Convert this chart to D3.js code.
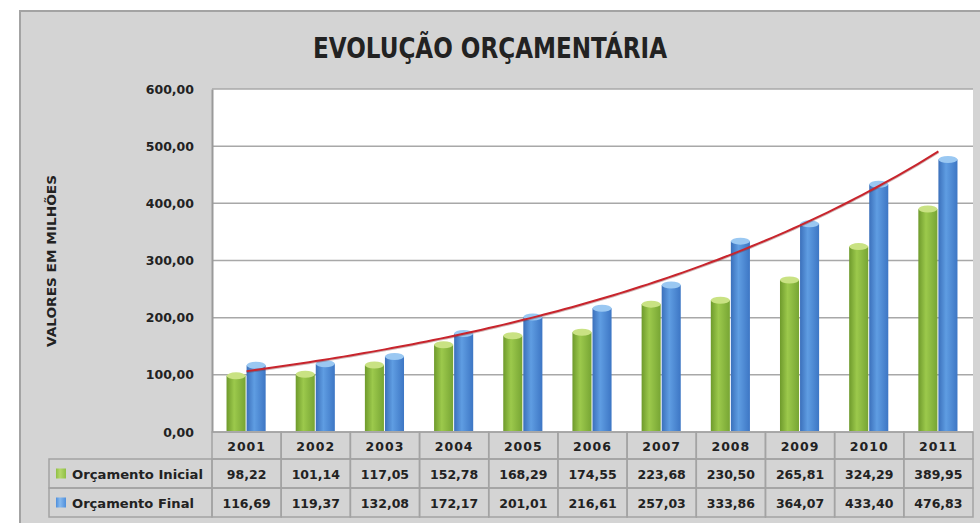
<!DOCTYPE html>
<html>
<head>
<meta charset="utf-8">
<script src="https://cdn.jsdelivr.net/npm/d3@7"></script>
<style>
  body { margin: 0; background: #fff; }
  svg { display: block; }
  text { font-family: "DejaVu Sans", sans-serif; fill: #222; }
</style>
</head>
<body>
<div id="chart"></div>
<script>
// chart data

var years = ["2001", "2002", "2003", "2004", "2005", "2006", "2007", "2008", "2009", "2010", "2011"];
var seriesNames = ["Orçamento Inicial", "Orçamento Final"];
var inicial = [98.22, 101.14, 117.05, 152.78, 168.29, 174.55, 223.68, 230.50, 265.81, 324.29, 389.95];
var final = [116.69, 119.37, 132.08, 172.17, 201.01, 216.61, 257.03, 333.86, 364.07, 433.40, 476.83];
var yTicks = [0, 100, 200, 300, 400, 500, 600];

// svg size and plot area

var svgWidth = 980;
var svgHeight = 523;

var plot = { left: 212, right: 973, top: 89, bottom: 432 };

var svg = d3.select("#chart")
  .append("svg")
  .attr("width", svgWidth)
  .attr("height", svgHeight);

var br = d3.formatLocale({ decimal: ",", thousands: ".", grouping: [3], currency: ["R$", ""] });
var fmt = br.format(".2f");

// gradients for the cylinder bars
var defs = svg.append("defs");
function cylGrad(id, edge, mid, edge2) {
  var g = defs.append("linearGradient").attr("id", id)
    .attr("x1", "0%").attr("x2", "100%").attr("y1", "0%").attr("y2", "0%");
  g.append("stop").attr("offset", "0%").attr("stop-color", edge);
  g.append("stop").attr("offset", "40%").attr("stop-color", mid);
  g.append("stop").attr("offset", "100%").attr("stop-color", edge2);
}
cylGrad("gGreen", "#6e9a2c", "#9cc94c", "#77a534");
cylGrad("gBlue", "#3b70bb", "#5f9de2", "#3d76c4");
cylGrad("kGreen", "#8fbf45", "#b5d86a", "#8fbf45");
cylGrad("kBlue", "#4f8fdc", "#86b9ee", "#4f8fdc");

var colors = [
  { fill: "url(#gGreen)", top: "#c9e283", key: "url(#kGreen)" },
  { fill: "url(#gBlue)", top: "#9ac8f2", key: "url(#kBlue)" }
];

// chart background
svg.append("rect")
  .attr("x", 20).attr("y", 11)
  .attr("width", 970).attr("height", 520)
  .attr("fill", "#d4d4d4")
  .attr("stroke", "#a3a3a3")
  .attr("stroke-width", 2);

// title
svg.append("text")
  .attr("x", 490).attr("y", 58)
  .attr("text-anchor", "middle")
  .attr("font-family", "'Open Sans', sans-serif")
  .attr("font-size", 28)
  .attr("font-weight", "bold")
  .attr("textLength", 354)
  .attr("lengthAdjust", "spacingAndGlyphs")
  .text("EVOLUÇÃO ORÇAMENTÁRIA");

// scales
var x0 = d3.scaleBand()
  .domain(years)
  .range([plot.left, plot.right])
  .paddingInner(0.42)
  .paddingOuter(0.21);

var x1 = d3.scaleBand()
  .domain([0, 1])
  .range([0, x0.bandwidth()]);

var yScale = d3.scaleLinear()
  .domain([0, 600])
  .range([plot.bottom, plot.top]);

// plot area
svg.append("rect")
  .attr("x", plot.left).attr("y", plot.top)
  .attr("width", plot.right - plot.left)
  .attr("height", plot.bottom - plot.top)
  .attr("fill", "#fff");

// gridlines
svg.append("g")
  .selectAll("line")
  .data(yTicks)
  .enter()
  .append("line")
  .attr("x1", plot.left).attr("x2", plot.right)
  .attr("y1", d => yScale(d)).attr("y2", d => yScale(d))
  .attr("stroke", "#a8a8a8")
  .attr("stroke-width", 1.5);

// y axis
var yAxis = d3.axisLeft(yScale)
  .tickValues(yTicks)
  .tickFormat(fmt)
  .tickSize(0)
  .tickPadding(18);

var yAxisG = svg.append("g")
  .attr("transform", "translate(" + plot.left + ",0)")
  .call(yAxis);
yAxisG.select(".domain").attr("stroke", "#9a9a9a").attr("stroke-width", 2);
yAxisG.selectAll("text")
  .attr("font-family", "'DejaVu Sans', sans-serif")
  .attr("font-size", 12.5)
  .attr("font-weight", "bold")
  .attr("fill", "#222");

svg.append("text")
  .attr("transform", "translate(56,261) rotate(-90)")
  .attr("text-anchor", "middle")
  .attr("font-size", 11.5)
  .attr("font-weight", "bold")
  .attr("textLength", 172)
  .attr("lengthAdjust", "spacingAndGlyphs")
  .text("VALORES EM MILHÕES");

// bars (cylinders)
var seriesData = [inicial, final];
var ry = 3.5;

seriesData.forEach(function(values, s) {
  var g = svg.append("g");
  var bars = g.selectAll("g").data(values).enter().append("g");

  bars.append("rect")
    .attr("x", (d, i) => x0(years[i]) + x1(s))
    .attr("y", d => yScale(d))
    .attr("width", x1.bandwidth() - 1)
    .attr("height", d => plot.bottom - yScale(d) - 1)
    .attr("fill", colors[s].fill);

  bars.append("ellipse")
    .attr("cx", (d, i) => x0(years[i]) + x1(s) + (x1.bandwidth() - 1) / 2)
    .attr("cy", d => yScale(d))
    .attr("rx", (x1.bandwidth() - 1) / 2)
    .attr("ry", ry)
    .attr("fill", colors[s].top);
});

// exponential trendline fitted on Orçamento Final
var n = final.length;
var xs = d3.range(n);
var lny = final.map(v => Math.log(v));
var mx = d3.mean(xs), my = d3.mean(lny);
var slope = d3.sum(xs, (x, i) => (x - mx) * (lny[i] - my)) / d3.sum(xs, x => (x - mx) * (x - mx));
var icpt = my - slope * mx;

var trendPts = d3.range(0, n - 1 + 0.001, 0.1).map(t => [t, Math.exp(icpt + slope * t)]);
var step = x0.step();
var xTrend = d => x0(years[0]) + x0.bandwidth() / 2 + d[0] * step;

var trendLine = d3.line()
  .x(xTrend)
  .y(d => yScale(d[1]));

svg.append("path")
  .datum(trendPts)
  .attr("d", trendLine)
  .attr("transform", "translate(0,1)")
  .attr("fill", "none")
  .attr("stroke", "#7a2a2a")
  .attr("stroke-opacity", 0.35)
  .attr("stroke-width", 2);

svg.append("path")
  .datum(trendPts)
  .attr("d", trendLine)
  .attr("fill", "none")
  .attr("stroke", "#c8242c")
  .attr("stroke-width", 2);

// data table
var tableTop = plot.bottom;
var rowH = [27, 29, 29];
var rowY = [tableTop, tableTop + rowH[0], tableTop + rowH[0] + rowH[1]];
var labelLeft = 49;
var cellX = d => plot.left + years.indexOf(d) * step;

var table = svg.append("g");
var lineColor = "#a3a3a3";

// header cells
table.selectAll("rect.head")
  .data(years)
  .enter()
  .append("rect")
  .attr("x", d => cellX(d))
  .attr("y", rowY[0])
  .attr("width", step)
  .attr("height", rowH[0])
  .attr("fill", "none")
  .attr("stroke", lineColor)
  .attr("stroke-width", 1.5);

table.selectAll("text.head")
  .data(years)
  .enter()
  .append("text")
  .attr("x", d => cellX(d) + step / 2)
  .attr("y", rowY[0] + rowH[0] / 2 + 5)
  .attr("text-anchor", "middle")
  .attr("font-size", 12.5)
  .attr("font-weight", "bold")
  .attr("letter-spacing", 1)
  .text(d => d);

seriesData.forEach(function(values, s) {
  var y = rowY[s + 1];
  var h = rowH[s + 1];

  table.append("rect")
    .attr("x", labelLeft).attr("y", y)
    .attr("width", plot.left - labelLeft).attr("height", h)
    .attr("fill", "none")
    .attr("stroke", lineColor)
    .attr("stroke-width", 1.5);

  table.append("rect")
    .attr("x", labelLeft + 7).attr("y", y + h / 2 - 5)
    .attr("width", 10).attr("height", 10)
    .attr("fill", colors[s].key);

  table.append("text")
    .attr("x", labelLeft + 23).attr("y", y + h / 2 + 5)
    .attr("font-size", 12.5)
    .attr("font-weight", "bold")
    .attr("textLength", s === 0 ? 131 : 122)
    .attr("lengthAdjust", "spacingAndGlyphs")
    .text(seriesNames[s]);

  table.selectAll("rect.c" + s)
    .data(values)
    .enter()
    .append("rect")
    .attr("x", (d, i) => cellX(years[i]))
    .attr("y", y)
    .attr("width", step)
    .attr("height", h)
    .attr("fill", "none")
    .attr("stroke", lineColor)
    .attr("stroke-width", 1.5);

  table.selectAll("text.c" + s)
    .data(values)
    .enter()
    .append("text")
    .attr("x", (d, i) => cellX(years[i]) + step / 2)
    .attr("y", y + h / 2 + 5)
    .attr("text-anchor", "middle")
    .attr("font-size", 12.5)
    .attr("font-weight", "bold")
    .text(d => fmt(d));
});
</script>
</body>
</html>
